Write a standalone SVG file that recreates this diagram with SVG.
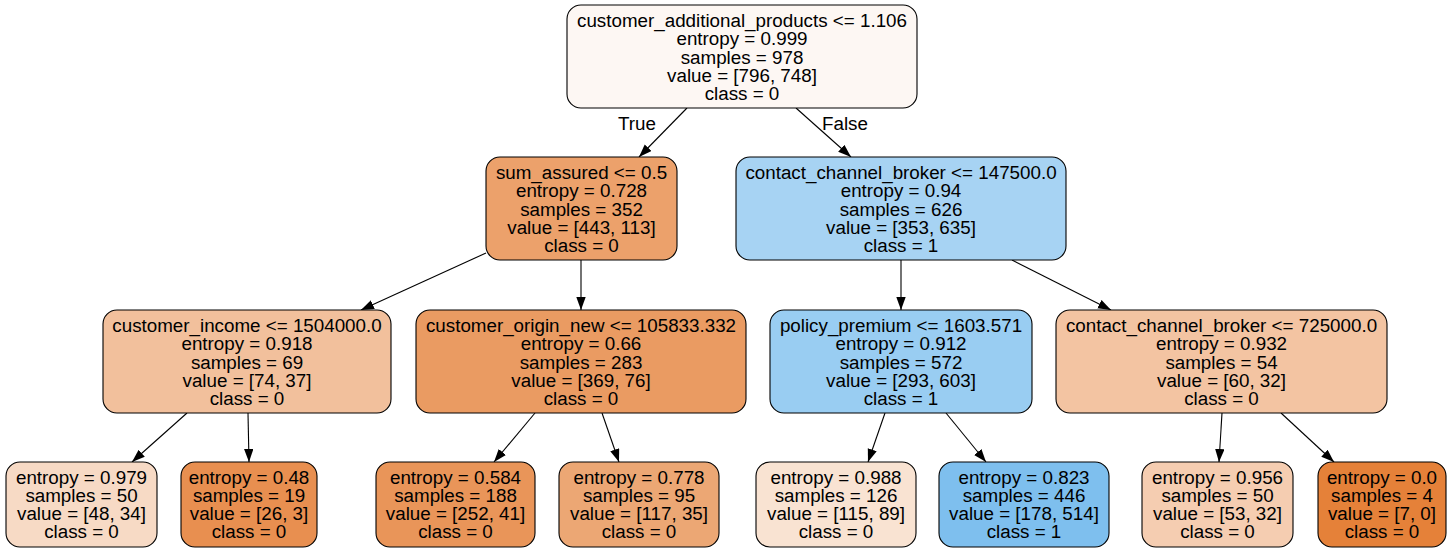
<svg xmlns="http://www.w3.org/2000/svg" width="1453" height="552" viewBox="0 0 1453 552">
<defs>
<style>
.box{stroke:#000;stroke-width:1.1}
text{font-family:"Liberation Sans",Arial,Helvetica,sans-serif;font-size:18.8px;fill:#000;text-anchor:middle}
.edge{stroke:#000;stroke-width:1.1;fill:none;marker-end:url(#arr)}
</style>
<marker id="arr" markerUnits="userSpaceOnUse" markerWidth="14" markerHeight="10" refX="13" refY="4.7" orient="auto">
<path d="M0,0 L13,4.7 L0,9.4 z" fill="#000"/>
</marker>
</defs>
<rect width="1453" height="552" fill="#fff"/>
<g id="edges">
<line class="edge" x1="687" y1="108" x2="639" y2="157"/>
<line class="edge" x1="796" y1="108" x2="851" y2="157"/>
<line class="edge" x1="486" y1="253" x2="361" y2="310"/>
<line class="edge" x1="581" y1="260" x2="581" y2="310"/>
<line class="edge" x1="901" y1="260" x2="901" y2="310"/>
<line class="edge" x1="1012" y1="260" x2="1111" y2="310"/>
<line class="edge" x1="187" y1="413" x2="132" y2="462"/>
<line class="edge" x1="248" y1="413" x2="249" y2="462"/>
<line class="edge" x1="535" y1="413" x2="494" y2="462"/>
<line class="edge" x1="602" y1="413" x2="619" y2="462"/>
<line class="edge" x1="885" y1="413" x2="868" y2="462"/>
<line class="edge" x1="946" y1="413" x2="986" y2="462"/>
<line class="edge" x1="1222" y1="413" x2="1219" y2="462"/>
<line class="edge" x1="1281" y1="413" x2="1334" y2="462"/>
<text x="637" y="130">True</text>
<text x="845" y="130">False</text>
</g>
<g id="n0">
<rect class="box" x="567" y="5" width="350" height="103" rx="14" fill="#fdf7f3"/>
<text x="742" y="27">customer_additional_products &lt;= 1.106</text>
<text x="742" y="45.3">entropy = 0.999</text>
<text x="742" y="63.6">samples = 978</text>
<text x="742" y="82">value = [796, 748]</text>
<text x="742" y="100.3">class = 0</text>
</g>
<g id="n1">
<rect class="box" x="486" y="157" width="191" height="103" rx="14" fill="#eca16b"/>
<text x="581.5" y="179">sum_assured &lt;= 0.5</text>
<text x="581.5" y="197.3">entropy = 0.728</text>
<text x="581.5" y="215.6">samples = 352</text>
<text x="581.5" y="234">value = [443, 113]</text>
<text x="581.5" y="252.3">class = 0</text>
</g>
<g id="n8">
<rect class="box" x="736" y="157" width="330" height="103" rx="14" fill="#a7d3f3"/>
<text x="901" y="179">contact_channel_broker &lt;= 147500.0</text>
<text x="901" y="197.3">entropy = 0.94</text>
<text x="901" y="215.6">samples = 626</text>
<text x="901" y="234">value = [353, 635]</text>
<text x="901" y="252.3">class = 1</text>
</g>
<g id="n2">
<rect class="box" x="103" y="310" width="288" height="103" rx="14" fill="#f2c09c"/>
<text x="247" y="332">customer_income &lt;= 1504000.0</text>
<text x="247" y="350.3">entropy = 0.918</text>
<text x="247" y="368.6">samples = 69</text>
<text x="247" y="387">value = [74, 37]</text>
<text x="247" y="405.3">class = 0</text>
</g>
<g id="n5">
<rect class="box" x="416" y="310" width="330" height="103" rx="14" fill="#ea9b62"/>
<text x="581" y="332">customer_origin_new &lt;= 105833.332</text>
<text x="581" y="350.3">entropy = 0.66</text>
<text x="581" y="368.6">samples = 283</text>
<text x="581" y="387">value = [369, 76]</text>
<text x="581" y="405.3">class = 0</text>
</g>
<g id="n9">
<rect class="box" x="770" y="310" width="262" height="103" rx="14" fill="#99cdf2"/>
<text x="901" y="332">policy_premium &lt;= 1603.571</text>
<text x="901" y="350.3">entropy = 0.912</text>
<text x="901" y="368.6">samples = 572</text>
<text x="901" y="387">value = [293, 603]</text>
<text x="901" y="405.3">class = 1</text>
</g>
<g id="n12">
<rect class="box" x="1056" y="310" width="331" height="103" rx="14" fill="#f3c4a2"/>
<text x="1221.5" y="332">contact_channel_broker &lt;= 725000.0</text>
<text x="1221.5" y="350.3">entropy = 0.932</text>
<text x="1221.5" y="368.6">samples = 54</text>
<text x="1221.5" y="387">value = [60, 32]</text>
<text x="1221.5" y="405.3">class = 0</text>
</g>
<g id="n3">
<rect class="box" x="6" y="462" width="151" height="85" rx="14" fill="#f7dac5"/>
<text x="81.5" y="483.5">entropy = 0.979</text>
<text x="81.5" y="501.8">samples = 50</text>
<text x="81.5" y="520.1">value = [48, 34]</text>
<text x="81.5" y="538.4">class = 0</text>
</g>
<g id="n4">
<rect class="box" x="181" y="462" width="136" height="85" rx="14" fill="#e88f50"/>
<text x="249" y="483.5">entropy = 0.48</text>
<text x="249" y="501.8">samples = 19</text>
<text x="249" y="520.1">value = [26, 3]</text>
<text x="249" y="538.4">class = 0</text>
</g>
<g id="n6">
<rect class="box" x="376" y="462" width="159" height="85" rx="14" fill="#e99559"/>
<text x="455.5" y="483.5">entropy = 0.584</text>
<text x="455.5" y="501.8">samples = 188</text>
<text x="455.5" y="520.1">value = [252, 41]</text>
<text x="455.5" y="538.4">class = 0</text>
</g>
<g id="n7">
<rect class="box" x="559" y="462" width="160" height="85" rx="14" fill="#eca774"/>
<text x="639" y="483.5">entropy = 0.778</text>
<text x="639" y="501.8">samples = 95</text>
<text x="639" y="520.1">value = [117, 35]</text>
<text x="639" y="538.4">class = 0</text>
</g>
<g id="n10">
<rect class="box" x="756" y="462" width="160" height="85" rx="14" fill="#f9e3d2"/>
<text x="836" y="483.5">entropy = 0.988</text>
<text x="836" y="501.8">samples = 126</text>
<text x="836" y="520.1">value = [115, 89]</text>
<text x="836" y="538.4">class = 0</text>
</g>
<g id="n11">
<rect class="box" x="939" y="462" width="170" height="85" rx="14" fill="#7ebfee"/>
<text x="1024" y="483.5">entropy = 0.823</text>
<text x="1024" y="501.8">samples = 446</text>
<text x="1024" y="520.1">value = [178, 514]</text>
<text x="1024" y="538.4">class = 1</text>
</g>
<g id="n13">
<rect class="box" x="1142" y="462" width="151" height="85" rx="14" fill="#f5cdb1"/>
<text x="1217.5" y="483.5">entropy = 0.956</text>
<text x="1217.5" y="501.8">samples = 50</text>
<text x="1217.5" y="520.1">value = [53, 32]</text>
<text x="1217.5" y="538.4">class = 0</text>
</g>
<g id="n14">
<rect class="box" x="1318" y="462" width="128" height="85" rx="14" fill="#e58139"/>
<text x="1382" y="483.5">entropy = 0.0</text>
<text x="1382" y="501.8">samples = 4</text>
<text x="1382" y="520.1">value = [7, 0]</text>
<text x="1382" y="538.4">class = 0</text>
</g>
</svg>
